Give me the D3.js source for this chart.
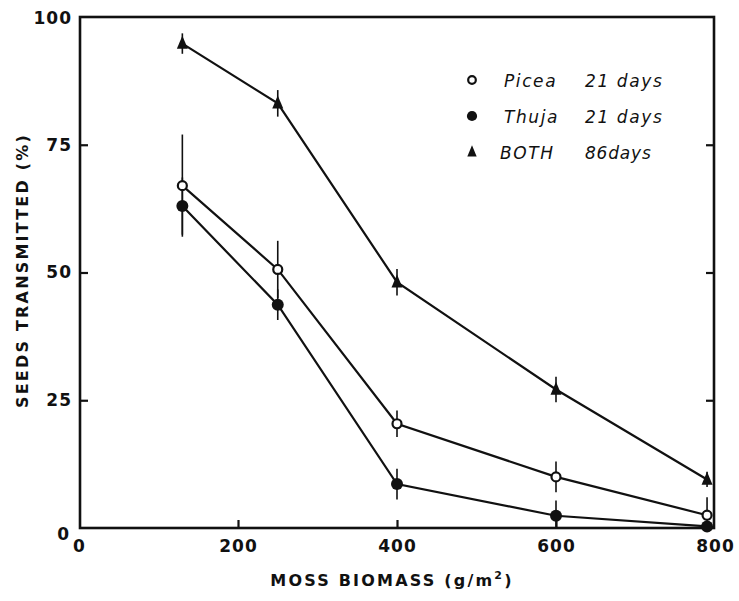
<!DOCTYPE html>
<html>
<head>
<meta charset="utf-8">
<script src="https://cdn.jsdelivr.net/npm/d3@7/dist/d3.min.js"></script>
<style>
  html, body { margin: 0; padding: 0; background: #fff; }
  svg { display: block; }
  text { font-family: "DejaVu Sans", "Liberation Sans", sans-serif; fill: #111; }
</style>
</head>
<body>
<svg id="chart" width="739" height="601"></svg>
<script>
// ---- data ----
const biomass = [130, 250, 400, 600, 790];
const piceaValues = [67, 50.6, 20.4, 10, 2.5];
const piceaErr    = [10, 5.6, 2.6, 3, 3.5];
const thujaValues = [63, 43.7, 8.6, 2.4, 0.3];
const thujaErr    = [5.6, 3, 3, 3, 1];
const bothValues  = [94.8, 83.1, 48.1, 27.1, 9.5];
const bothErr     = [2, 2.6, 2.6, 2.5, 1.5];
const xTicks = [0, 200, 400, 600, 800];
const yTicks = [0, 25, 50, 75, 100];
const seriesNames = ["Picea", "Thuja", "BOTH"];
const seriesDays  = ["21 days", "21 days", "86days"];

const svg = d3.select("#chart");
const x = d3.scaleLinear().domain([0, 800]).range([79, 715]);
const y = d3.scaleLinear().domain([0, 100]).range([528, 17]);

const ink = "#111";

// frame
svg.append("rect")
  .attr("x", x(0) + 1).attr("y", y(100))
  .attr("width", x(800) - x(0) - 2).attr("height", y(0) - y(100))
  .attr("fill", "none").attr("stroke", ink).attr("stroke-width", 2.6);

// left axis
const yAxis = svg.append("g").attr("transform", `translate(${x(0) + 1},0)`)
  .call(d3.axisLeft(y).tickValues(yTicks).tickSizeInner(-8).tickSizeOuter(0).tickPadding(8)
        .tickFormat(d3.format("d")));
yAxis.select(".domain").remove();
yAxis.selectAll(".tick line").attr("stroke", ink).attr("stroke-width", 2.2)
  .attr("display", d => (d === 0 || d === 100) ? "none" : null);
yAxis.selectAll(".tick text")
  .style("font-size", "17px").style("font-weight", "bold").style("letter-spacing", "1px")
  .attr("fill", ink);
yAxis.selectAll(".tick text").filter(d => d === 0).attr("x", -10).attr("dy", "0.65em");
yAxis.selectAll(".tick text").filter(d => d === 100).attr("dy", "0.4em");

// right axis ticks
const yAxisR = svg.append("g").attr("transform", `translate(${x(800) - 1},0)`)
  .call(d3.axisRight(y).tickValues([25, 50, 75]).tickSizeInner(-8).tickSizeOuter(0).tickFormat(""));
yAxisR.select(".domain").remove();
yAxisR.selectAll(".tick line").attr("stroke", ink).attr("stroke-width", 2.2);

// bottom axis
const xAxis = svg.append("g").attr("transform", `translate(0,${y(0)})`)
  .call(d3.axisBottom(x).tickValues(xTicks).tickSizeInner(-8).tickSizeOuter(0).tickPadding(12)
        .tickFormat(d3.format("d")));
xAxis.select(".domain").remove();
xAxis.selectAll(".tick line").attr("stroke", ink).attr("stroke-width", 2.2)
  .attr("display", d => (d === 0 || d === 800) ? "none" : null);
xAxis.selectAll(".tick text")
  .style("font-size", "17px").style("font-weight", "bold").style("letter-spacing", "1px")
  .attr("fill", ink);

// axis titles
svg.append("text")
  .attr("transform", `translate(28,${(y(0) + y(100)) / 2 - 2}) rotate(-90)`)
  .attr("text-anchor", "middle")
  .style("font-size", "16px").style("font-weight", "bold").style("letter-spacing", "2.2px")
  .text("SEEDS TRANSMITTED (%)");

const xt = svg.append("text")
  .attr("x", 392).attr("y", 586)
  .attr("text-anchor", "middle")
  .style("font-size", "16px").style("font-weight", "bold").style("letter-spacing", "2.2px");
xt.append("tspan").text("MOSS BIOMASS (g/m");
xt.append("tspan").attr("dy", -7).style("font-size", "11px").text("2");
xt.append("tspan").attr("dy", 7).text(")");

// series
const series = [
  { name: "Picea", values: piceaValues, err: piceaErr, type: "open" },
  { name: "Thuja", values: thujaValues, err: thujaErr, type: "filled" },
  { name: "BOTH",  values: bothValues,  err: bothErr,  type: "tri" }
];

const line = d3.line().x(d => x(d[0])).y(d => y(d[1]));

series.forEach(s => {
  const pts = biomass.map((b, i) => [b, s.values[i], s.err[i]]);
  // error bars
  svg.append("g").selectAll("line").data(pts).join("line")
    .attr("x1", d => x(d[0])).attr("x2", d => x(d[0]))
    .attr("y1", d => y(d[1] + d[2])).attr("y2", d => y(Math.max(0, d[1] - d[2])))
    .attr("stroke", ink).attr("stroke-width", 1.6);
  // line
  svg.append("path").datum(pts).attr("d", line)
    .attr("fill", "none").attr("stroke", ink).attr("stroke-width", 2.2);
});

function drawMarker(g, type, cx, cy, scale) {
  const k = scale || 1;
  if (type === "open") {
    g.append("circle").attr("cx", cx).attr("cy", cy).attr("r", 4.5 * k)
      .attr("fill", "#fff").attr("stroke", ink).attr("stroke-width", 2.2);
  } else if (type === "filled") {
    g.append("circle").attr("cx", cx).attr("cy", cy).attr("r", 6 * k).attr("fill", ink);
  } else {
    const w = 5.5 * k, h = 13 * k;
    g.append("path")
      .attr("d", `M${cx},${cy - h * 0.6}L${cx + w},${cy + h * 0.4}L${cx - w},${cy + h * 0.4}Z`)
      .attr("fill", ink);
  }
}

series.forEach(s => {
  const g = svg.append("g");
  biomass.forEach((b, i) => drawMarker(g, s.type, x(b), y(s.values[i]), 1));
});

// legend
const legendY = [81, 117, 153];
const legend = svg.append("g");
series.forEach((s, i) => {
  drawMarker(legend, s.type, 472, legendY[i] - 1, 0.85);
  legend.append("text")
    .attr("x", i === 2 ? 500 : 504).attr("y", legendY[i] + 6)
    .style("font-size", "17px").style("font-style", "italic").style("letter-spacing", "1.6px")
    .text(seriesNames[i]);
  legend.append("text")
    .attr("x", 585).attr("y", legendY[i] + 6)
    .style("font-size", "17px").style("font-style", "italic").style("letter-spacing", i === 2 ? "0.8px" : "1.6px")
    .text(seriesDays[i]);
});
</script>
</body>
</html>
